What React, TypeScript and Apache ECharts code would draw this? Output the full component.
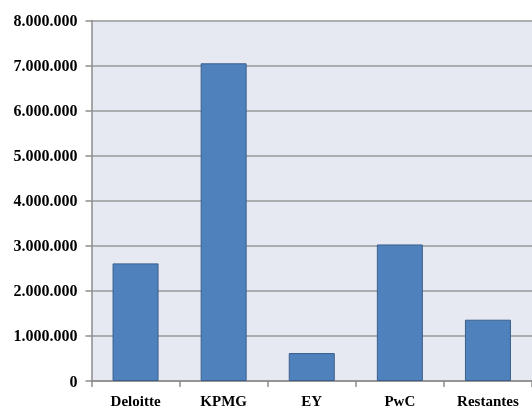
import React, { useEffect, useRef } from "react";
import * as echarts from "echarts";

const categories = ["Deloitte", "KPMG", "EY", "PwC", "Restantes"];
const values = [2610000, 7050000, 620000, 3030000, 1360000];
const yMin = 0;
const yMax = 8000000;
const yInterval = 1000000;

function fmt(v: number): string {
  return String(Math.round(v)).replace(/\B(?=(\d{3})+(?!\d))/g, ".");
}

const FONT = "'Liberation Serif', 'Times New Roman', serif";

export default function App() {
  const ref = useRef<HTMLDivElement>(null);
  useEffect(() => {
    if (!ref.current) return;
    const chart = echarts.init(ref.current, null, { renderer: "svg" });
    chart.setOption({
      animation: false,
      grid: {
        left: 91.5,
        top: 20.5,
        right: 0,
        bottom: 25.5,
        show: true,
        backgroundColor: "#E7E9F2",
        borderWidth: 0,
      },
      xAxis: {
        type: "category",
        data: categories,
        axisLine: { show: true, lineStyle: { color: "#8c8c8c", width: 1.5 } },
        axisTick: { show: true, length: 6, lineStyle: { color: "#8c8c8c", width: 1.5 } },
        axisLabel: {
          color: "#000",
          fontFamily: FONT,
          fontWeight: "bold",
          fontSize: 15,
          margin: 12,
        },
      },
      yAxis: {
        type: "value",
        min: yMin,
        max: yMax,
        interval: yInterval,
        axisLine: { show: true, lineStyle: { color: "#8c8c8c", width: 1.5 } },
        axisTick: { show: true, length: 6, lineStyle: { color: "#8c8c8c", width: 1.5 } },
        splitLine: { show: true, lineStyle: { color: "#999999", width: 1.5 } },
        axisLabel: {
          color: "#000",
          fontFamily: FONT,
          fontWeight: "bold",
          fontSize: 16,
          margin: 14,
          formatter: (v: number) => fmt(v),
        },
      },
      series: [
        {
          type: "bar",
          data: values,
          barWidth: 46,
          itemStyle: { color: "#4F81BD", borderColor: "#3A5F8C", borderWidth: 1 },
        },
      ],
    });
    return () => chart.dispose();
  }, []);
  return (
    <div
      ref={ref}
      style={{ position: "fixed", left: 0, top: 0, width: 532, height: 408 }}
    />
  );
}
